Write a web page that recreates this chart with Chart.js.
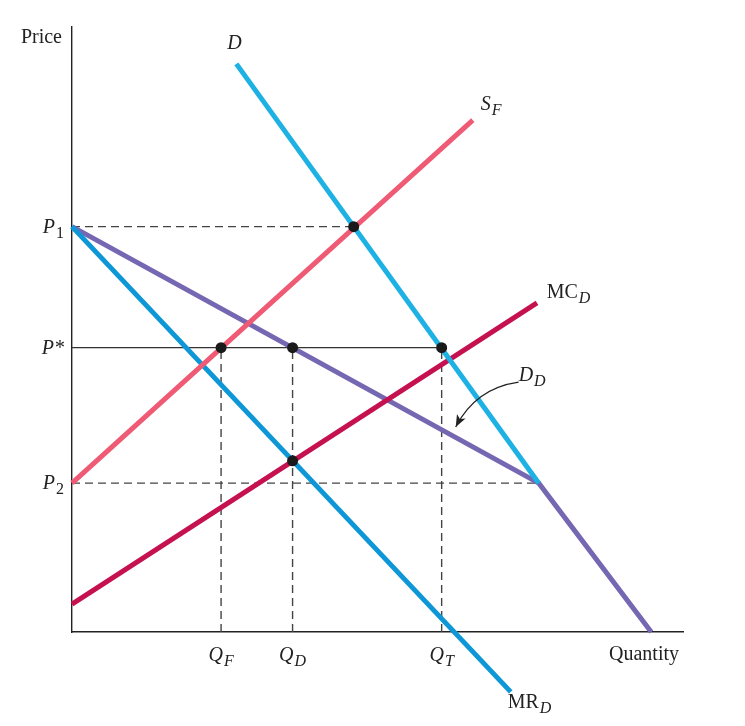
<!DOCTYPE html>
<html>
<head>
<meta charset="utf-8">
<script src="https://cdn.jsdelivr.net/npm/chart.js@4"></script>
<style>
  html, body { margin: 0; padding: 0; background: #fff; }
  #wrap { width: 745px; height: 726px; }
</style>
</head>
<body>
<div id="wrap"><canvas id="chart"></canvas></div>
<script>
// price levels and quantities (axis units 0-100)
const P1 = 67, PSTAR = 47, P2 = 24.6;
const QF = 24.4, QD = 36.1, QT = 60.5;

// curves
const demand = [{x: 26.9, y: 93.9}, {x: 76.4, y: 24.6}];
const domesticDemand = [{x: 0, y: P1}, {x: 76.4, y: P2}, {x: 94.8, y: 0}];
const foreignSupply = [{x: 0, y: P2}, {x: 65.6, y: 84.6}];
const domesticMC = [{x: 0, y: 4.6}, {x: 76.1, y: 54.4}];
const domesticMR = [{x: 0, y: P1}, {x: 71.8, y: -9.9}];

// guide lines
const p1Line = [{x: 0, y: P1}, {x: 46.1, y: P1}];
const p2Line = [{x: 0, y: P2}, {x: 76.4, y: P2}];
const pStarLine = [{x: 0, y: PSTAR}, {x: QT, y: PSTAR}];
const qLines = [[QF, PSTAR], [QD, PSTAR], [QT, PSTAR]];

// equilibrium dots
const dots = [{x: 46.1, y: P1}, {x: QF, y: PSTAR}, {x: QD, y: PSTAR}, {x: QT, y: PSTAR}, {x: QD, y: 28.3}];

// labels: [main, sub, x, y, italic main]
const curveLabels = [
    ['D', '', 25.4, 96.3, true],
    ['S', 'F', 66.9, 86.3, true],
    ['MC', 'D', 77.7, 55.2, false],
    ['D', 'D', 73.1, 41.5, true],
    ['MR', 'D', 71.3, -12.5, false]
];
const yTickLabels = [['P', '1', P1], ['P*', '', PSTAR], ['P', '2', P2]];
const xTickLabels = [['Q', 'F', QF], ['Q', 'D', QD], ['Q', 'T', QT]];

const ink = '#222';
const serif = '"Liberation Serif", "DejaVu Serif", serif';

function line(data, color, width, dash) {
    return {
        data: data, borderColor: color, borderWidth: width, borderDash: dash || [],
        pointRadius: 0, showLine: true, fill: false, clip: false, tension: 0,
        borderCapStyle: 'butt'
    };
}

// first dataset is drawn on top
const datasets = [
    {data: dots, showLine: false, pointRadius: 5.5, pointBackgroundColor: '#1a1a1a',
     pointBorderWidth: 0, clip: false},
    line(demand, '#1eb1e3', 5),
    line(foreignSupply, '#ef5a74', 5),
    line(domesticMC, '#c5114f', 5),
    line(domesticMR, '#0e97d6', 5),
    line(domesticDemand, '#7567b1', 5),
    line(pStarLine, '#333', 1.2),
    line(p1Line, '#444', 1.4, [8, 5]),
    line(p2Line, '#444', 1.4, [8, 5])
];
qLines.forEach(q => datasets.push(line([{x: q[0], y: 0}, {x: q[0], y: q[1]}], '#444', 1.4, [8, 5])));

function drawSub(ctx, main, sub, x, y, italic, size, align) {
    const subFont = (/^\d+$/.test(sub) ? '' : 'italic ') + Math.round(size * 0.78) + 'px ' + serif;
    const mainFont = (italic ? 'italic ' : '') + size + 'px ' + serif;
    ctx.font = mainFont;
    const w1 = ctx.measureText(main).width;
    ctx.font = subFont;
    const w2 = sub ? ctx.measureText(sub).width + 1 : 0;
    let left = x;
    if (align === 'center') left = x - (w1 + w2) / 2;
    if (align === 'right') left = x - w1 - w2;
    ctx.textAlign = 'left';
    ctx.textBaseline = 'alphabetic';
    ctx.fillStyle = ink;
    ctx.font = mainFont;
    ctx.fillText(main, left, y);
    if (sub) {
        ctx.font = subFont;
        ctx.fillText(sub, left + w1 + 1, y + size * 0.25);
    }
}

const labelPlugin = {
    id: 'labels',
    afterDraw(chart) {
        const ctx = chart.ctx;
        const xs = chart.scales.x, ys = chart.scales.y;
        ctx.save();
        curveLabels.forEach(l => drawSub(ctx, l[0], l[1], xs.getPixelForValue(l[2]), ys.getPixelForValue(l[3]), l[4], 20, 'left'));
        yTickLabels.forEach(l => drawSub(ctx, l[0], l[1], xs.left - 8, ys.getPixelForValue(l[2]) + 6, true, 20, 'right'));
        xTickLabels.forEach(l => drawSub(ctx, l[0], l[1], xs.getPixelForValue(l[2]), ys.bottom + 29, true, 20, 'center'));
        drawSub(ctx, 'Price', '', xs.left - 10, ys.top + 16, false, 20, 'right');
        drawSub(ctx, 'Quantity', '', xs.right - 4, ys.bottom + 28, false, 20, 'right');

        // curved arrow pointing at D_D
        const tx = xs.getPixelForValue(73.1), ty = ys.getPixelForValue(41.3);
        const cx = xs.getPixelForValue(66.1), cy = ys.getPixelForValue(40.3);
        const hx = xs.getPixelForValue(62.8), hy = ys.getPixelForValue(33.9);
        ctx.strokeStyle = ink;
        ctx.lineWidth = 1.2;
        ctx.beginPath();
        ctx.moveTo(tx, ty);
        ctx.quadraticCurveTo(cx, cy, hx, hy);
        ctx.stroke();
        const ang = Math.atan2(hy - cy, hx - cx);
        ctx.fillStyle = ink;
        ctx.beginPath();
        ctx.moveTo(hx, hy);
        ctx.lineTo(hx - 13 * Math.cos(ang - 0.38), hy - 13 * Math.sin(ang - 0.38));
        ctx.lineTo(hx - 9 * Math.cos(ang), hy - 9 * Math.sin(ang));
        ctx.lineTo(hx - 13 * Math.cos(ang + 0.38), hy - 13 * Math.sin(ang + 0.38));
        ctx.closePath();
        ctx.fill();
        ctx.restore();
    }
};

const ctx = document.querySelector('#chart').getContext('2d');
const chart = new Chart(ctx, {
    type: 'scatter',
    data: {datasets: datasets},
    options: {
        responsive: true,
        maintainAspectRatio: false,
        animation: false,
        layout: {padding: {left: 72, right: 62, top: 27, bottom: 94}},
        plugins: {legend: {display: false}, tooltip: {enabled: false}},
        scales: {
            x: {
                type: 'linear', min: 0, max: 100,
                grid: {color: 'rgba(0,0,0,0)', drawTicks: false},
                border: {display: true, color: '#222', width: 1.4},
                ticks: {display: false}
            },
            y: {
                type: 'linear', min: 0, max: 100,
                grid: {color: 'rgba(0,0,0,0)', drawTicks: false},
                border: {display: true, color: '#222', width: 1.4},
                ticks: {display: false}
            }
        }
    },
    plugins: [labelPlugin]
});
</script>
</body>
</html>
